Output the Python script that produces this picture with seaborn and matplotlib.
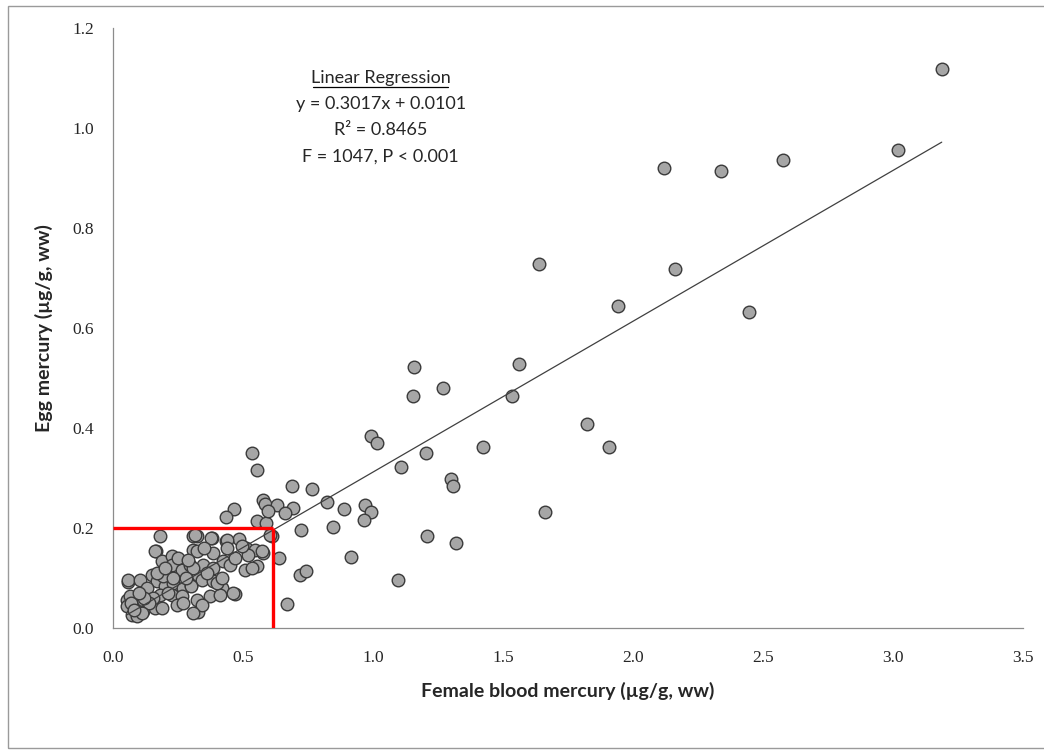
import numpy as np
import pandas as pd
import matplotlib
matplotlib.use("Agg")
import matplotlib.pyplot as plt
import seaborn as sns
from matplotlib.patches import Rectangle

# female blood Hg (x) and egg Hg (y)
blood_hg = [
    3.187, 3.02, 2.576, 2.34, 2.446, 2.12, 2.16, 1.944, 1.64, 1.563, 1.533,
    1.158, 1.153, 1.27, 1.822, 1.906, 0.992, 1.017, 1.204, 1.422, 1.106,
    1.30, 1.309, 0.89, 0.969, 0.992, 0.965, 1.66, 1.206, 1.318, 0.914,
    1.097, 0.848,
    0.536, 0.555, 0.69, 0.764, 0.822, 0.723, 0.578, 0.585, 0.63, 0.694,
    0.662, 0.467, 0.435, 0.553, 0.587, 0.61, 0.64, 0.719, 0.742, 0.668,
    0.597, 0.604,
    0.181, 0.322, 0.38, 0.435, 0.486, 0.165, 0.512, 0.546, 0.576, 0.52,
    0.553, 0.508, 0.469, 0.328, 0.056, 0.533, 0.495, 0.572,
    0.162, 0.187, 0.226, 0.226, 0.264, 0.296, 0.309, 0.308, 0.059, 0.104,
    0.149, 0.168, 0.2, 0.232, 0.27, 0.302, 0.129, 0.181, 0.226, 0.264,
    0.245, 0.053, 0.053, 0.085, 0.072, 0.091, 0.117, 0.13, 0.162, 0.117,
    0.155, 0.065, 0.328, 0.322, 0.194,
    0.315, 0.376, 0.437, 0.322, 0.386, 0.437, 0.347, 0.424, 0.45, 0.309,
    0.386, 0.341, 0.386, 0.418, 0.463, 0.302, 0.373, 0.412, 0.341, 0.309,
    0.14, 0.21, 0.28, 0.25, 0.36, 0.4, 0.47, 0.19, 0.11, 0.07,
    0.08, 0.12, 0.17, 0.23, 0.29, 0.35, 0.42, 0.27, 0.2, 0.1,
]
egg_hg = [
    1.117, 0.955, 0.936, 0.914, 0.632, 0.92, 0.718, 0.643, 0.728, 0.528, 0.463,
    0.522, 0.464, 0.479, 0.407, 0.362, 0.384, 0.369, 0.349, 0.361, 0.321,
    0.298, 0.283, 0.237, 0.245, 0.232, 0.216, 0.232, 0.184, 0.169, 0.142,
    0.095, 0.201,
    0.349, 0.315, 0.283, 0.277, 0.251, 0.195, 0.256, 0.247, 0.246, 0.239,
    0.229, 0.237, 0.221, 0.213, 0.209, 0.184, 0.139, 0.106, 0.113, 0.047,
    0.233, 0.186,
    0.184, 0.183, 0.179, 0.173, 0.177, 0.153, 0.159, 0.156, 0.149, 0.146,
    0.124, 0.116, 0.068, 0.031, 0.091, 0.119, 0.163, 0.153,
    0.153, 0.133, 0.143, 0.126, 0.116, 0.126, 0.156, 0.183, 0.096, 0.096,
    0.106, 0.093, 0.083, 0.089, 0.079, 0.086, 0.079, 0.066, 0.066, 0.063,
    0.046, 0.056, 0.043, 0.046, 0.026, 0.023, 0.033, 0.043, 0.039, 0.056,
    0.059, 0.063, 0.106, 0.056, 0.103,
    0.186, 0.179, 0.176, 0.153, 0.149, 0.159, 0.126, 0.133, 0.126, 0.119,
    0.119, 0.096, 0.093, 0.079, 0.069, 0.083, 0.063, 0.066, 0.046, 0.029,
    0.05, 0.07, 0.10, 0.14, 0.11, 0.09, 0.14, 0.04, 0.03, 0.05,
    0.035, 0.06, 0.11, 0.10, 0.135, 0.16, 0.10, 0.05, 0.12, 0.07,
]

slope = 0.3017
intercept = 0.0101
stats_lines = ["y = 0.3017x + 0.0101", "R² = 0.8465", "F = 1047, P < 0.001"]

x_ticks = [0.0, 0.5, 1.0, 1.5, 2.0, 2.5, 3.0, 3.5]
y_ticks = [0.0, 0.2, 0.4, 0.6, 0.8, 1.0, 1.2]
cutoff_x = 0.615
cutoff_y = 0.2

df = pd.DataFrame({"blood": blood_hg, "egg": egg_hg})

sns.set_style("white")
fig = plt.figure(figsize=(10.44, 7.5), dpi=100)
ax = fig.add_axes([0.1082, 0.1627, 0.8718, 0.80])

sns.scatterplot(data=df, x="blood", y="egg", ax=ax, s=82, color="#a6a6a6",
                edgecolor="#3a3a3a", linewidth=1.0, zorder=3)

# regression line across the data range
xl = np.array([df["blood"].min(), df["blood"].max()])
ax.plot(xl, slope * xl + intercept, color="#404040", lw=0.9, zorder=4)

# red cutoff box
ax.plot([0, cutoff_x], [cutoff_y, cutoff_y], color="#ff0000", lw=2.4, zorder=5,
        solid_capstyle="butt")
ax.plot([cutoff_x, cutoff_x], [0, cutoff_y], color="#ff0000", lw=2.4, zorder=5,
        solid_capstyle="butt")

ax.set_xlim(0, 3.5)
ax.set_ylim(0, 1.2)
ax.set_xticks(x_ticks)
ax.set_yticks(y_ticks)
ax.set_xticklabels([f"{v:.1f}" for v in x_ticks], family="Liberation Serif", fontsize=12.5)
ax.set_yticklabels([f"{v:.1f}" for v in y_ticks], family="Liberation Serif", fontsize=12.5)
ax.tick_params(axis="x", direction="out", length=3.5, width=0.8, color="#8c8c8c", pad=12)
ax.tick_params(axis="y", direction="out", length=5.5, width=0.8, color="#8c8c8c", pad=8)

for side in ["top", "right"]:
    ax.spines[side].set_visible(False)
for side in ["left", "bottom"]:
    ax.spines[side].set_color("#8c8c8c")
    ax.spines[side].set_linewidth(0.9)

ax.set_xlabel("Female blood mercury (µg/g, ww)", family="Lato", fontweight="bold",
              fontsize=14, labelpad=12)
ax.set_ylabel("Egg mercury (µg/g, ww)", family="Lato", fontweight="bold",
              fontsize=14, labelpad=14)

# regression text block
ax.text(1.03, 1.1, "Linear Regression", ha="center", va="center", family="Lato",
        fontsize=13)
ax.plot([0.77, 1.29], [1.082, 1.082], color="black", lw=0.9, clip_on=False)
for i, line in enumerate(stats_lines):
    ax.text(1.03, 1.048 - i * 0.053, line, ha="center", va="center", family="Lato",
            fontsize=13)

# outer frame like the original chart box
fig.patches.append(Rectangle((8 / 1044, 2 / 750), 1.2, 742 / 750, transform=fig.transFigure,
                             fill=False, edgecolor="#9a9a9a", lw=1.0))

fig.savefig("out.png", dpi=100)
